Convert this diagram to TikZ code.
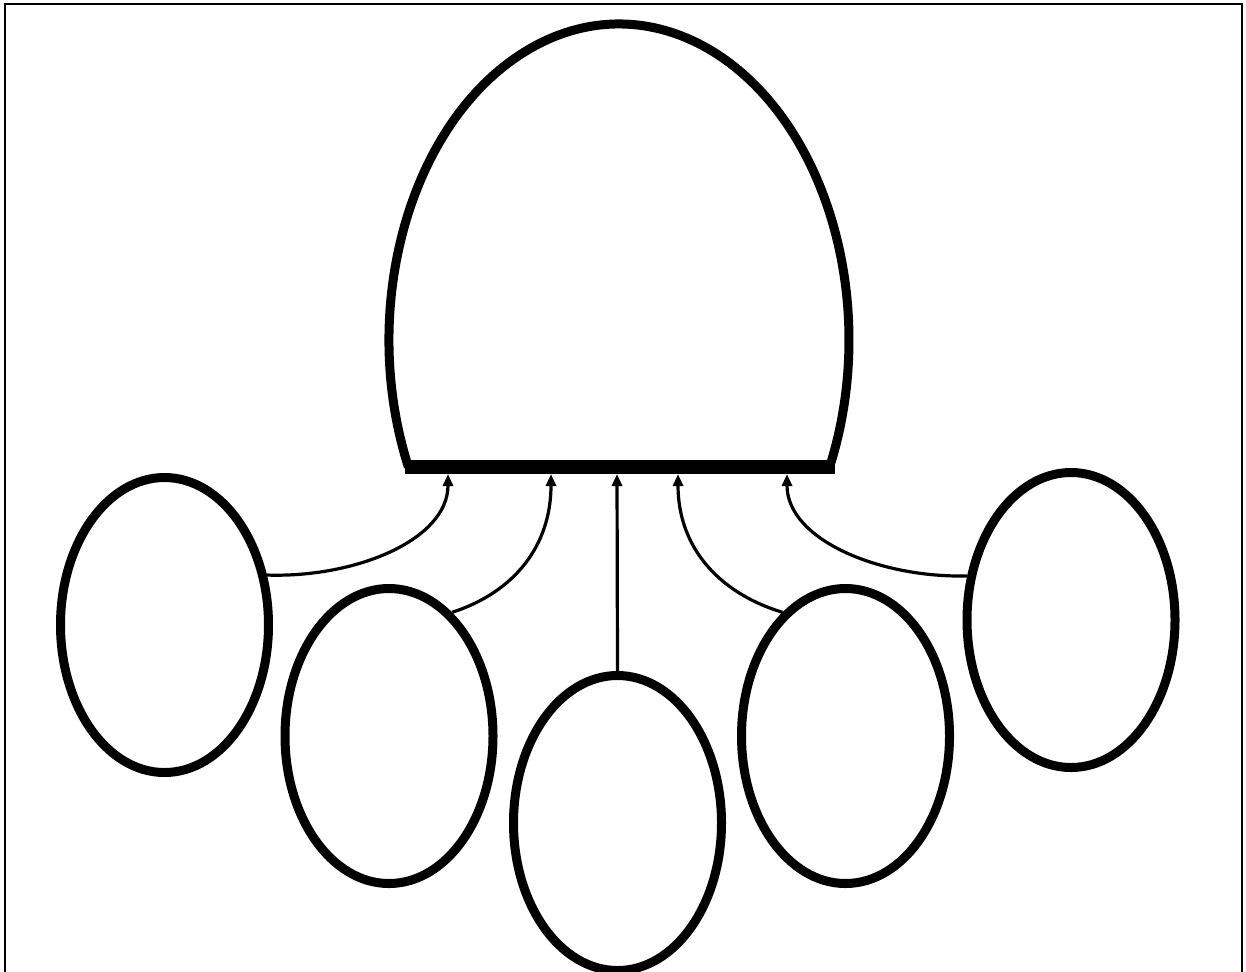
\documentclass[tikz,border=0pt]{standalone}
\usetikzlibrary{shapes.geometric,arrows.meta}
\begin{document}
\begin{tikzpicture}[x=0.5pt,y=-0.5pt,
  bubble/.style={draw=black,line width=4.5pt,ellipse,minimum width=104pt,minimum height=147.5pt,inner sep=0pt},
  arr/.style={draw=black,line width=1.6pt,-{Triangle[length=6pt,width=5pt]}},
  frame/.style={draw=black,line width=1pt}]
\useasboundingbox (0,0) rectangle (1246,971);
\draw[frame] (5,985) -- (5,4) -- (1242,4) -- (1242,985);
% dome
\draw[line width=4.5pt,line join=round] (408.4,467) arc[start angle=156.3,end angle=383.7,x radius=230,y radius=316];
\node[fill=black,minimum width=215pt,minimum height=7pt,inner sep=0pt] (base) at (619.5,467) {};
\coordinate (t1) at (448,474);
\coordinate (t2) at (551,474);
\coordinate (t3) at (617,474);
\coordinate (t4) at (678,474);
\coordinate (t5) at (787,474);
% bubbles
\node[bubble] (e1) at (164.5,625) {};
\node[bubble] (e2) at (389,736) {};
\node[bubble] (e3) at (617.5,823) {};
\node[bubble] (e4) at (845.5,736) {};
\node[bubble] (e5) at (1071,620) {};
% connectors
\draw[arr] (e1.26) .. controls (355,578) and (448,540) .. (t1);
\draw[arr] (e2.63) .. controls (515,592) and (551,545) .. (t2);
\draw[arr] (e3.north) -- (t3);
\draw[arr] (e4.117) .. controls (716,592) and (678,545) .. (t4);
\draw[arr] (e5.157) .. controls (880,578) and (787,540) .. (t5);
\end{tikzpicture}
\end{document}
